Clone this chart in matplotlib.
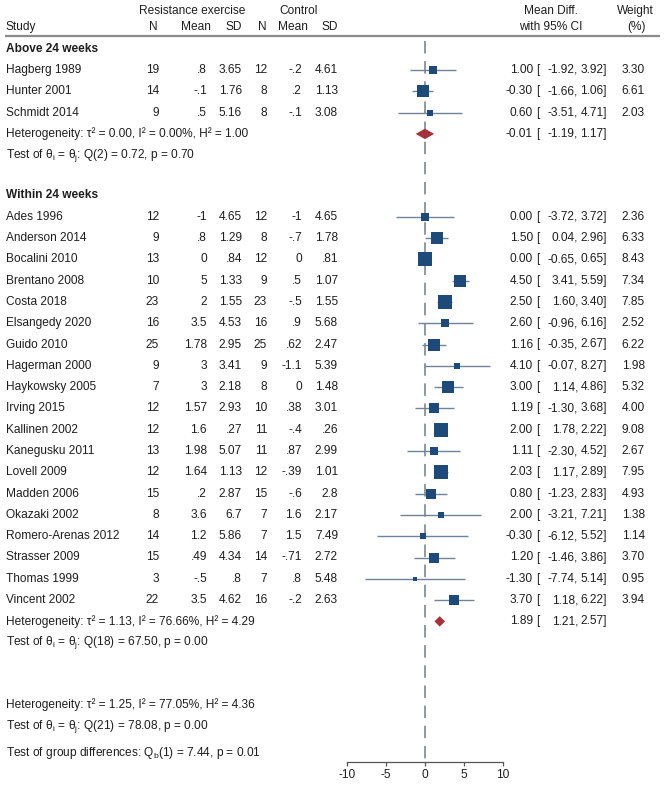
import matplotlib
matplotlib.use('Agg')
import matplotlib.pyplot as plt
import numpy as np

plt.rcParams['font.family'] = ['Liberation Sans', 'DejaVu Sans']
plt.rcParams['axes.unicode_minus'] = False
plt.rcParams['lines.scale_dashes'] = False

# ---------------- data ----------------
g1_title = 'Above 24 weeks'
g1_studies = ['Hagberg 1989', 'Hunter 2001', 'Schmidt 2014']
g1_n_re = [19, 14, 9]
g1_mean_re = [0.8, -0.1, 0.5]
g1_sd_re = [3.65, 1.76, 5.16]
g1_n_ct = [12, 8, 8]
g1_mean_ct = [-0.2, 0.2, -0.1]
g1_sd_ct = [4.61, 1.13, 3.08]
g1_md = [1.00, -0.30, 0.60]
g1_lo = [-1.92, -1.66, -3.51]
g1_hi = [3.92, 1.06, 4.71]
g1_w = [3.30, 6.61, 2.03]
g1_pool = (-0.01, -1.19, 1.17)
g1_het = 'Heterogeneity: τ² = 0.00, I² = 0.00%, H² = 1.00'
g1_test = r'Test of θ$_\mathregular{i}$ = θ$_\mathregular{j}$: Q(2) = 0.72, p = 0.70'

g2_title = 'Within 24 weeks'
g2_studies = ['Ades 1996', 'Anderson 2014', 'Bocalini 2010', 'Brentano 2008', 'Costa 2018',
              'Elsangedy 2020', 'Guido 2010', 'Hagerman 2000', 'Haykowsky 2005', 'Irving 2015',
              'Kallinen 2002', 'Kanegusku 2011', 'Lovell 2009', 'Madden 2006', 'Okazaki 2002',
              'Romero-Arenas 2012', 'Strasser 2009', 'Thomas 1999', 'Vincent 2002']
g2_n_re = [12, 9, 13, 10, 23, 16, 25, 9, 7, 12, 12, 13, 12, 15, 8, 14, 15, 3, 22]
g2_mean_re = [-1, 0.8, 0, 5, 2, 3.5, 1.78, 3, 3, 1.57, 1.6, 1.98, 1.64, 0.2, 3.6, 1.2, 0.49, -0.5, 3.5]
g2_sd_re = [4.65, 1.29, 0.84, 1.33, 1.55, 4.53, 2.95, 3.41, 2.18, 2.93, 0.27, 5.07, 1.13, 2.87, 6.7, 5.86, 4.34, 0.8, 4.62]
g2_n_ct = [12, 8, 12, 9, 23, 16, 25, 9, 8, 10, 11, 11, 12, 15, 7, 7, 14, 7, 16]
g2_mean_ct = [-1, -0.7, 0, 0.5, -0.5, 0.9, 0.62, -1.1, 0, 0.38, -0.4, 0.87, -0.39, -0.6, 1.6, 1.5, -0.71, 0.8, -0.2]
g2_sd_ct = [4.65, 1.78, 0.81, 1.07, 1.55, 5.68, 2.47, 5.39, 1.48, 3.01, 0.26, 2.99, 1.01, 2.8, 2.17, 7.49, 2.72, 5.48, 2.63]
g2_md = [0.00, 1.50, 0.00, 4.50, 2.50, 2.60, 1.16, 4.10, 3.00, 1.19, 2.00, 1.11, 2.03, 0.80, 2.00, -0.30, 1.20, -1.30, 3.70]
g2_lo = [-3.72, 0.04, -0.65, 3.41, 1.60, -0.96, -0.35, -0.07, 1.14, -1.30, 1.78, -2.30, 1.17, -1.23, -3.21, -6.12, -1.46, -7.74, 1.18]
g2_hi = [3.72, 2.96, 0.65, 5.59, 3.40, 6.16, 2.67, 8.27, 4.86, 3.68, 2.22, 4.52, 2.89, 2.83, 7.21, 5.52, 3.86, 5.14, 6.22]
g2_w = [2.36, 6.33, 8.43, 7.34, 7.85, 2.52, 6.22, 1.98, 5.32, 4.00, 9.08, 2.67, 7.95, 4.93, 1.38, 1.14, 3.70, 0.95, 3.94]
g2_pool = (1.89, 1.21, 2.57)
g2_het = 'Heterogeneity: τ² = 1.13, I² = 76.66%, H² = 4.29'
g2_test = r'Test of θ$_\mathregular{i}$ = θ$_\mathregular{j}$: Q(18) = 67.50, p = 0.00'

overall_het = 'Heterogeneity: τ² = 1.25, I² = 77.05%, H² = 4.36'
overall_test = r'Test of θ$_\mathregular{i}$ = θ$_\mathregular{j}$: Q(21) = 78.08, p = 0.00'
group_test = r'Test of group differences: Q$_\mathregular{b}$(1) = 7.44, p = 0.01'

x_ticks = [-10, -5, 0, 5, 10]

# ---------------- style / layout ----------------
W, H = 666, 786
FS = 8.6
TXT = '#1e1e1e'
SQ = '#1d4a78'
CIC = '#6f8499'
DIA = '#a3323a'
REF = '#8e99a4'
ROW = 21.3
AXB = 762

fig = plt.figure(figsize=(W / 100, H / 100), dpi=100)
tx = fig.add_axes([0, 0, 1, 1])
tx.set_xlim(0, W)
tx.set_ylim(H, 0)
tx.axis('off')

ax = fig.add_axes([347 / W, (H - AXB) / H, 156 / W, AXB / H])
ax.patch.set_visible(False)
ax.set_xlim(-10, 10)
ax.set_ylim(AXB, 0)
for s in ['top', 'right', 'left']:
    ax.spines[s].set_visible(False)
ax.spines['bottom'].set_color('#555555')
ax.spines['bottom'].set_linewidth(0.9)
ax.set_yticks([])
ax.set_xticks(x_ticks)
ax.set_xticklabels([str(t) for t in x_ticks])
ax.tick_params(axis='x', direction='out', length=3, width=0.9, color='#555555',
               labelsize=FS, labelcolor=TXT, pad=2)


def fmt(v):
    s = f'{v:g}'
    if s.startswith('0.'):
        s = s[1:]
    elif s.startswith('-0.'):
        s = '-' + s[2:]
    return s


def t(x, y, s, ha='left', bold=False):
    tx.text(x, y, s, ha=ha, va='center', fontsize=FS, color=TXT,
            fontweight='bold' if bold else 'normal')


# column right edges
C_N1, C_M1, C_S1, C_N2, C_M2, C_S2 = 159, 207, 242, 267, 302, 338
C_EST, C_LO, C_HI, C_LB, C_W = 533, 578, 607, 536, 645

# headers
t(192.5, 11, 'Resistance exercise', ha='center')
t(299, 11, 'Control', ha='center')
t(6, 27, 'Study')
t(158, 27, 'N', ha='right')
t(211, 27, 'Mean', ha='right')
t(242, 27, 'SD', ha='right')
t(267, 27, 'N', ha='right')
t(308, 27, 'Mean', ha='right')
t(338, 27, 'SD', ha='right')
t(551, 11, 'Mean Diff.', ha='center')
t(551, 27, 'with 95% CI', ha='center')
t(635, 11, 'Weight', ha='center')
t(636, 27, '(%)', ha='center')
tx.plot([5, 660], [35.5, 35.5], color='#8a8a8a', lw=1.6, solid_capstyle='butt')

# reference line
ax.plot([0, 0], [41, AXB], color=REF, lw=1.4, dashes=(9, 5.5), zorder=1)


def est_text(y, m, lo, hi):
    t(C_EST, y, f'{m:.2f}', ha='right')
    t(C_LB, y, '[')
    t(C_LO, y, f'{lo:.2f},', ha='right')
    t(C_HI, y, f'{hi:.2f}]', ha='right')


def draw_group(y0, title, studies, nre, mre, sre, nct, mct, sct, md, lo, hi, w, pool, het, test):
    t(6, y0, title, bold=True)
    for i, name in enumerate(studies):
        y = y0 + ROW * (i + 1)
        t(6, y, name)
        t(C_N1, y, str(nre[i]), ha='right')
        t(C_M1, y, fmt(mre[i]), ha='right')
        t(C_S1, y, fmt(sre[i]), ha='right')
        t(C_N2, y, str(nct[i]), ha='right')
        t(C_M2, y, fmt(mct[i]), ha='right')
        t(C_S2, y, fmt(sct[i]), ha='right')
        est_text(y, md[i], lo[i], hi[i])
        t(C_W, y, f'{w[i]:.2f}', ha='right')
        ax.plot([lo[i], hi[i]], [y, y], color=CIC, lw=1.0, zorder=2, solid_capstyle='butt')
        ax.plot([md[i]], [y], marker='s', ms=3.45 * np.sqrt(w[i]), color=SQ,
                markeredgewidth=0, zorder=3)
    yp = y0 + ROW * (len(studies) + 1)
    m, l, h = pool
    dh = 5.2
    ax.fill([l, m, h, m], [yp, yp - dh, yp, yp + dh], color=DIA, lw=0, zorder=3)
    t(6, yp, het)
    est_text(yp, m, l, h)
    t(6, yp + ROW, test)


draw_group(48.7, g1_title, g1_studies, g1_n_re, g1_mean_re, g1_sd_re, g1_n_ct, g1_mean_ct,
           g1_sd_ct, g1_md, g1_lo, g1_hi, g1_w, g1_pool, g1_het, g1_test)
draw_group(195.4, g2_title, g2_studies, g2_n_re, g2_mean_re, g2_sd_re, g2_n_ct, g2_mean_ct,
           g2_sd_ct, g2_md, g2_lo, g2_hi, g2_w, g2_pool, g2_het, g2_test)

t(6, 705, overall_het)
t(6, 726.3, overall_test)
t(6, 753, group_test)

fig.savefig('out.png', dpi=100, facecolor='white')
